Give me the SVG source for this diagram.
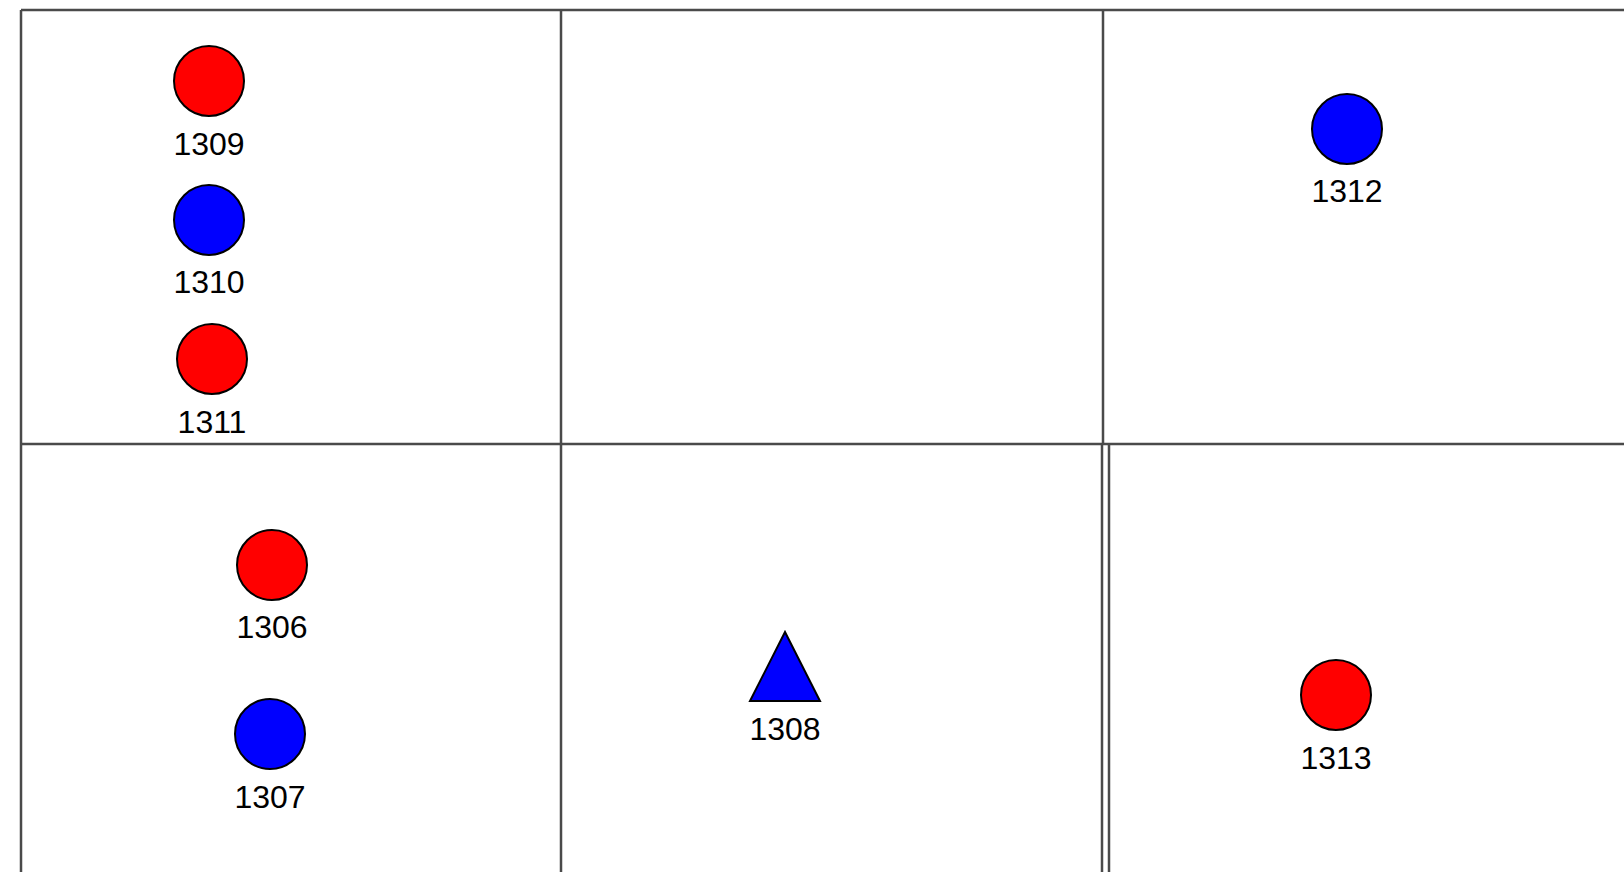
<svg xmlns="http://www.w3.org/2000/svg" width="1624" height="872" viewBox="0 0 1624 872">
<style>
.grid{stroke:#4a4a4a;stroke-width:2.5;fill:none}
.red{fill:#ff0000;stroke:#000;stroke-width:2}
.blue{fill:#0000ff;stroke:#000;stroke-width:2}
.lbl{font-family:"Liberation Sans",Arial,sans-serif;font-size:32px;fill:#000;text-anchor:middle}
</style>
<rect width="1624" height="872" fill="#fff"/>
<g id="grid">
<line class="grid" x1="21" y1="10" x2="1624" y2="10"/>
<line class="grid" x1="21" y1="10" x2="21" y2="872"/>
<line class="grid" x1="21" y1="444" x2="1624" y2="444"/>
<line class="grid" x1="561" y1="10" x2="561" y2="872"/>
<line class="grid" x1="1103" y1="10" x2="1103" y2="444"/>
<line class="grid" x1="1102" y1="444" x2="1102" y2="872"/>
<line class="grid" x1="1109" y1="444" x2="1109" y2="872"/>
</g>
<g id="connectors"></g>
<g id="n1309"><circle class="red" cx="209" cy="81" r="35"/><text class="lbl" x="209" y="155">1309</text></g>
<g id="n1310"><circle class="blue" cx="209" cy="220" r="35"/><text class="lbl" x="209" y="293">1310</text></g>
<g id="n1311"><circle class="red" cx="212" cy="359" r="35"/><text class="lbl" x="212" y="433">1311</text></g>
<g id="n1312"><circle class="blue" cx="1347" cy="129" r="35"/><text class="lbl" x="1347" y="202">1312</text></g>
<g id="n1306"><circle class="red" cx="272" cy="565" r="35"/><text class="lbl" x="272" y="638">1306</text></g>
<g id="n1307"><circle class="blue" cx="270" cy="734" r="35"/><text class="lbl" x="270" y="808">1307</text></g>
<g id="n1313"><circle class="red" cx="1336" cy="695" r="35"/><text class="lbl" x="1336" y="769">1313</text></g>
<g id="n1308"><polygon class="blue" points="785,632 820,701 750,701"/><text class="lbl" x="785" y="740">1308</text></g>
</svg>
